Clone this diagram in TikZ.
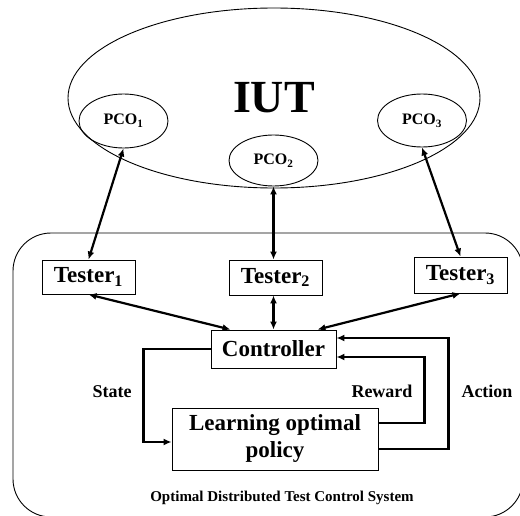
\documentclass[tikz,border=0pt]{standalone}
\usepackage{fontspec}
\setmainfont{Liberation Serif}
\usetikzlibrary{arrows.meta,shapes.geometric}

\tikzset{
    unit/.style={draw,line width=0.9pt,inner sep=0pt,align=center,font=\fontsize{23}{27}\selectfont\bfseries},
    pco/.style={draw,ellipse,line width=0.9pt,inner sep=0pt,minimum width=89pt,minimum height=54pt,font=\fontsize{16}{18}\selectfont\bfseries},
    lbl/.style={font=\fontsize{18}{20}\selectfont\bfseries},
    link/.style={line width=2.2pt,{Latex[length=8pt,width=7pt]}-{Latex[length=8pt,width=7pt]}},
    feed/.style={line width=2.2pt,-{Latex[length=8pt,width=7pt]}}
}

\begin{document}
\begin{tikzpicture}[x=1pt,y=-1pt]
        \useasboundingbox (0,0) rectangle (520,516);
        % --- sistema di controllo ---
        \draw[line width=0.9pt,rounded corners=38pt] (13,233) rectangle (523,517);
        \node[lbl,font=\fontsize{15}{17}\selectfont\bfseries] (sys) at (282,498) {Optimal Distributed Test Control System};
        % --- IUT e PCO ---
        \node[draw,ellipse,line width=0.9pt,inner sep=0pt,minimum width=412pt,minimum height=180pt,font=\fontsize{46}{50}\selectfont\bfseries] (iut) at (274,98) {IUT};
        \node[pco] (pco1) at (123.5,121) {PCO\textsubscript{1}};
        \node[pco,minimum height=51pt] (pco2) at (273.5,160.5) {PCO\textsubscript{2}};
        \node[pco,minimum height=53pt] (pco3) at (422,120.5) {PCO\textsubscript{3}};
        % --- tester ---
        \node[unit,minimum width=93pt,minimum height=34pt] (t1) at (88.5,277) {Tester\textsubscript{1}};
        \node[unit,minimum width=93pt,minimum height=35pt] (t2) at (275.5,277.5) {Tester\textsubscript{2}};
        \node[unit,minimum width=93pt,minimum height=36pt] (t3) at (460.5,275) {Tester\textsubscript{3}};
        % --- controller e learning ---
        \node[unit,minimum width=125pt,minimum height=38pt] (ctrl) at (273.5,349) {Controller};
        \node[unit,minimum width=206pt,minimum height=62pt] (learn) at (275,439) {Learning optimal\\policy};
        \node[lbl] (state) at (112,392) {State};
        \node[lbl] (reward) at (382,391) {Reward};
        \node[lbl] (action) at (487,391) {Action};
        % --- collegamenti ---
        \draw[link] (pco1.south) -- (t1.north);
        \draw[link] (pco2.south) -- (pco2.south |- t2.north);
        \draw[link] (pco3.south) -- (t3.north);
        \draw[link] (t1.south) -- ([xshift=-43pt]ctrl.north);
        \draw[link] (t2.south -| ctrl.north) -- (ctrl.north);
        \draw[link] (t3.south) -- ([xshift=44pt]ctrl.north);
        \draw[feed] (ctrl.west) -- ++(-67,0) |- ([yshift=-3pt]learn.west);
        \draw[feed] ([yshift=16pt]learn.east) -- ++(46,0) |- ([yshift=-8pt]ctrl.east);
        \draw[feed] ([yshift=-10pt]learn.east) -- ++(70,0) |- ([yshift=11pt]ctrl.east);
\end{tikzpicture}
\end{document}
